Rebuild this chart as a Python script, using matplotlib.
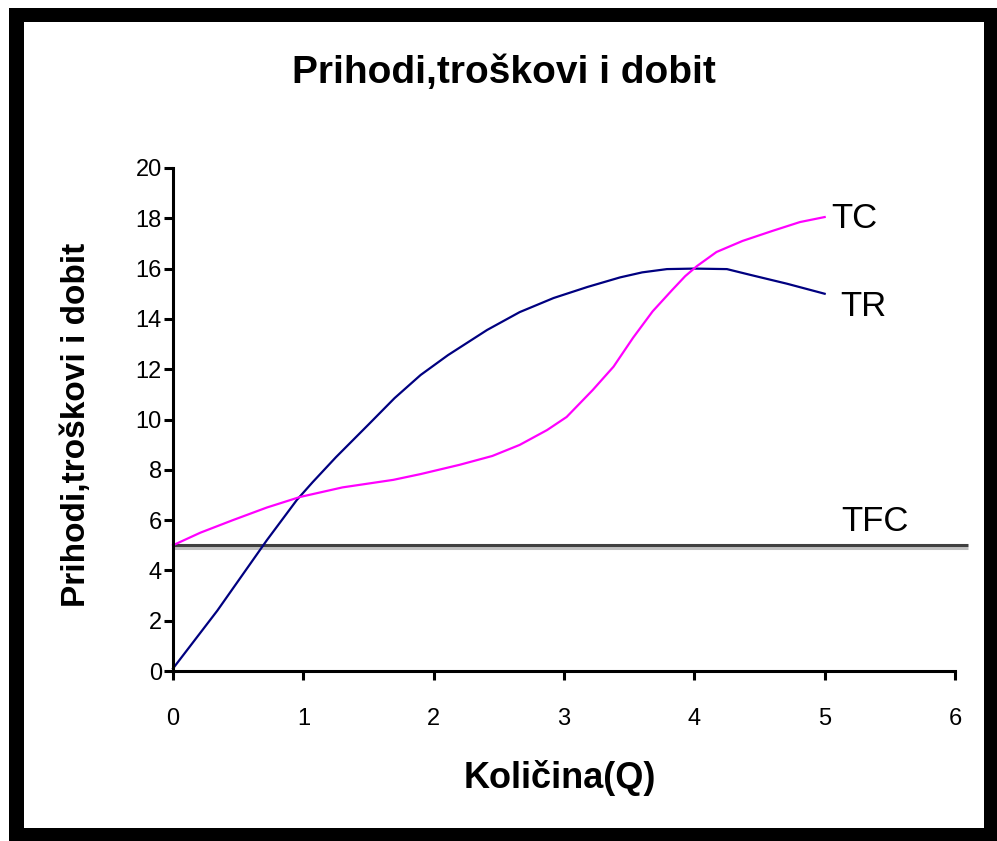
import matplotlib
matplotlib.use("Agg")
import matplotlib.pyplot as plt
import matplotlib.patheffects as pe
from matplotlib import font_manager
from matplotlib.patches import Rectangle

# values
q_tr = [0, 0.34, 0.72, 0.95, 1.07, 1.25, 1.5, 1.7, 1.9, 2.11, 2.41, 2.66, 2.92,
        3.18, 3.43, 3.6, 3.79, 4.0, 4.25, 4.43, 4.71, 5.0]
tr = [0.1, 2.4, 5.2, 6.8, 7.5, 8.5, 9.8, 10.85, 11.77, 12.56, 13.56, 14.27, 14.83,
      15.27, 15.65, 15.85, 15.98, 16.0, 15.98, 15.75, 15.4, 15.0]

q_tc = [0, 0.21, 0.46, 0.72, 0.975, 1.3, 1.69, 1.9, 2.2, 2.45, 2.66, 2.87, 3.02,
        3.22, 3.38, 3.53, 3.68, 3.83, 3.93, 4.02, 4.17, 4.37, 4.6, 4.81, 5.0]
tc = [5.0, 5.5, 6.0, 6.5, 6.92, 7.3, 7.6, 7.83, 8.2, 8.55, 8.99, 9.58, 10.1,
      11.17, 12.1, 13.25, 14.3, 15.15, 15.7, 16.1, 16.66, 17.1, 17.5, 17.85, 18.05]

q_tfc = [0, 6.1]
tfc = [5, 5]

x_ticks = [0, 1, 2, 3, 4, 5, 6]
y_ticks = [0, 2, 4, 6, 8, 10, 12, 14, 16, 18, 20]

title = "Prihodi,troškovi i dobit"
x_label = "Količina(Q)"
y_label = "Prihodi,troškovi i dobit"

# narrow font if we have it
names = {f.name for f in font_manager.fontManager.ttflist}
narrow = "Liberation Sans Narrow" if "Liberation Sans Narrow" in names else "Liberation Sans"
plt.rcParams['font.family'] = ['Liberation Sans', 'DejaVu Sans']

W, H = 997, 841
fig = plt.figure(figsize=(W / 100, H / 100), dpi=100)

# black frame around the chart
fig.patches.append(Rectangle((9 / W, 0), 988 / W, 833 / H, transform=fig.transFigure,
                             facecolor='black', edgecolor='none', zorder=-2))
fig.patches.append(Rectangle((24 / W, 13 / H), 960 / W, 806 / H, transform=fig.transFigure,
                             facecolor='white', edgecolor='none', zorder=-1))

ax = fig.add_axes([173 / W, 1 - 671 / H, 782 / W, 503 / H])
ax.set_facecolor('none')

ax.plot(q_tfc, tfc, color='#404040', lw=2.2, clip_on=False, solid_capstyle='butt',
        path_effects=[pe.SimpleLineShadow(offset=(0, -2.2), shadow_color='#c0c0c0', alpha=1),
                      pe.Normal()])
ax.plot(q_tr, tr, color='#000080', lw=1.6, clip_on=False)
ax.plot(q_tc, tc, color='#ff00ff', lw=1.6, clip_on=False)

ax.text(5.05, 18, "TC", fontsize=25, va='center', ha='left')
ax.text(5.12, 14.5, "TR", fontsize=25, va='center', ha='left')
ax.text(5.13, 5.95, "TFC", fontsize=25, va='center', ha='left')

ax.set_xlim(0, 6)
ax.set_ylim(0, 20)
ax.set_xticks(x_ticks)
ax.set_yticks(y_ticks)
ax.set_xticklabels([str(v) for v in x_ticks], family=narrow, fontsize=17)
ax.set_yticklabels([str(v) for v in y_ticks], family=narrow, fontsize=17)
ax.tick_params(axis='both', direction='out', length=6.5, width=2.2, color='black')
ax.tick_params(axis='x', pad=20)
ax.tick_params(axis='y', pad=1.5)

for side in ['top', 'right']:
    ax.spines[side].set_visible(False)
for side in ['left', 'bottom']:
    ax.spines[side].set_linewidth(2.2)

fig.text(503.5 / W, 1 - 83 / H, title, family=narrow, fontweight='bold', fontsize=28,
         ha='center', va='baseline')
fig.text(559.5 / W, 1 - 788 / H, x_label, family=narrow, fontweight='bold', fontsize=26,
         ha='center', va='baseline')
fig.text(85 / W, 1 - 425 / H, y_label, fontweight='bold', fontsize=24, rotation=90,
         rotation_mode='anchor', ha='center', va='baseline')

fig.savefig("out.png", dpi=100, facecolor='white')
